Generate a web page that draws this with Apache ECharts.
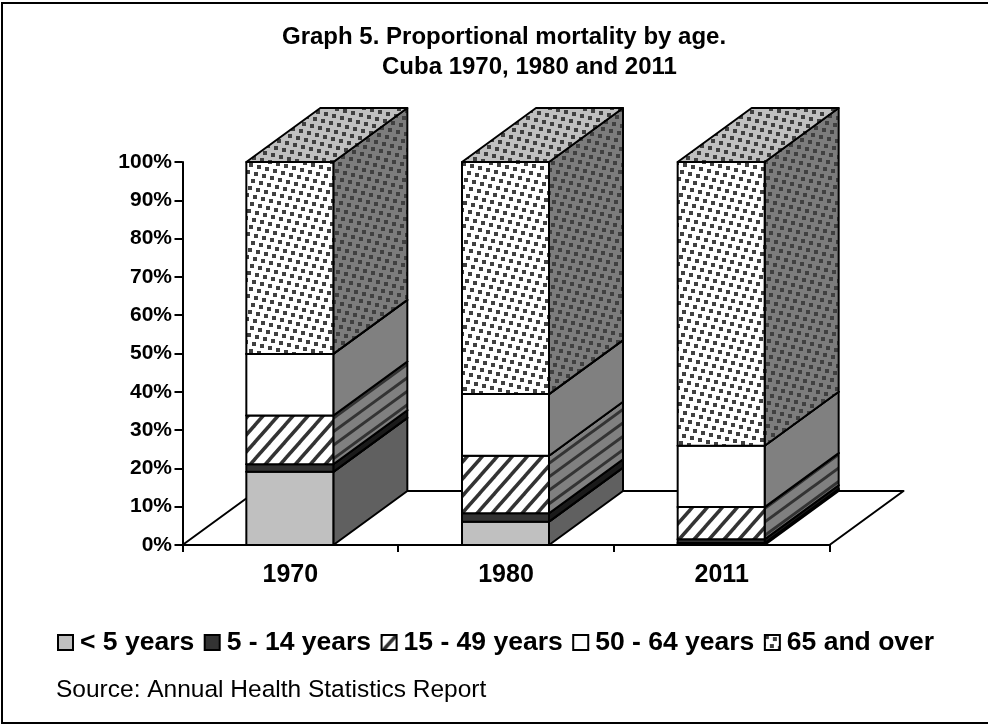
<!DOCTYPE html>
<html>
<head>
<meta charset="utf-8">
<style>
  html, body { margin: 0; padding: 0; background: #fff; }
  #chart { width: 988px; height: 725px; }
</style>
<script src="https://cdn.jsdelivr.net/npm/echarts@6/dist/echarts.min.js"></script>
</head>
<body>
<div id="chart"></div>
<script>
const years = ["1970", "1980", "2011"];
const tickLabels = ["0%", "10%", "20%", "30%", "40%", "50%", "60%", "70%", "80%", "90%", "100%"];

// share of deaths per age group
const under5 = [19.1, 6.1, 0.5];
const age5to14 = [2.0, 2.2, 1.0];
const age15to49 = [12.7, 15.0, 8.4];
const age50to64 = [16.1, 16.1, 16.0];
const age65plus = [50.1, 60.6, 74.1];

const FONT = '"Liberation Sans", Arial, sans-serif';
const DEPTH_X = 74;
const DEPTH_Y = 54;
const BAR_WIDTH = 87;
const BAR_SHIFT = -0.5;

function tile(w, h, draw) {
  const c = document.createElement("canvas");
  c.width = w;
  c.height = h;
  draw(c.getContext("2d"), w, h);
  return { image: c, repeat: "repeat" };
}

// slanted grid of little squares, repeats every 62px
function dots(bg) {
  return tile(62, 62, (g, w, h) => {
    g.fillStyle = bg;
    g.fillRect(0, 0, w, h);
    g.fillStyle = "#404040";
    for (let i = -10; i < 20; i++) {
      for (let j = -10; j < 20; j++) {
        g.fillRect(i * 8 - j * 3, i * 2 + j * 7, 4, 4);
      }
    }
  });
}

function stripes(bg, w, h, count, width) {
  return tile(w, h, (g) => {
    g.fillStyle = bg;
    g.fillRect(0, 0, w, h);
    g.strokeStyle = "#333333";
    g.lineWidth = width;
    const step = h / count;
    for (let k = -count * 2; k <= count * 3; k++) {
      g.beginPath();
      g.moveTo(-w, 2 * h + k * step);
      g.lineTo(2 * w, k * step - h);
      g.stroke();
    }
  });
}

const frontDots = dots("#ffffff");
const sideDots = dots("#7c7c7c");
const topDots = dots("#c0c0c0");
const frontHatch = stripes("#ffffff", 15, 17, 1, 3.5);
const sideHatch = stripes("#808080", DEPTH_X, DEPTH_Y, 4, 3);

const groups = [
  { name: "< 5 years", values: under5, front: "#c0c0c0", side: "#606060", top: "#c0c0c0" },
  { name: "5 - 14 years", values: age5to14, front: "#333333", side: "#1a1a1a", top: "#333333" },
  { name: "15 - 49 years", values: age15to49, front: frontHatch, side: sideHatch, top: "#c0c0c0" },
  { name: "50 - 64 years", values: age50to64, front: "#ffffff", side: "#808080", top: "#c0c0c0" },
  { name: "65 and over", values: age65plus, front: frontDots, side: sideDots, top: topDots },
];

function boxRenderer(group) {
  return function (params, api) {
    const mid = api.coord([api.value(0), 0])[0] + BAR_SHIFT;
    const low = api.coord([api.value(0), api.value(1)])[1];
    const high = api.coord([api.value(0), api.value(2)])[1];
    const l = mid - BAR_WIDTH / 2;
    const r = mid + BAR_WIDTH / 2;
    const face = (points, fill) => ({
      type: "polygon",
      shape: { points },
      style: { fill, stroke: "#000", lineWidth: 2, lineJoin: "round" },
    });
    return {
      type: "group",
      children: [
        face([[r, high], [r + DEPTH_X, high - DEPTH_Y], [r + DEPTH_X, low - DEPTH_Y], [r, low]], group.side),
        face([[l, high], [l + DEPTH_X, high - DEPTH_Y], [r + DEPTH_X, high - DEPTH_Y], [r, high]], group.top),
        face([[l, low], [r, low], [r, high], [l, high]], group.front),
      ],
    };
  };
}

function floorRenderer(params) {
  const g = params.coordSys;
  const b = g.y + g.height;
  return {
    type: "polygon",
    shape: {
      points: [[g.x, b], [g.x + DEPTH_X, b - DEPTH_Y], [g.x + g.width + DEPTH_X, b - DEPTH_Y], [g.x + g.width, b]],
    },
    style: { fill: "none", stroke: "#000", lineWidth: 2, lineJoin: "round" },
  };
}

const series = [
  { type: "custom", name: "floor", coordinateSystem: "cartesian2d", renderItem: floorRenderer, data: [[0, 0]], z: 1, silent: true },
];
let base = years.map(() => 0);
groups.forEach((group) => {
  const rows = years.map((y, i) => [i, base[i], base[i] + group.values[i]]);
  base = base.map((b, i) => b + group.values[i]);
  series.push({
    type: "custom",
    name: group.name,
    coordinateSystem: "cartesian2d",
    renderItem: boxRenderer(group),
    encode: { x: 0, y: [1, 2] },
    itemStyle: { color: group.front, borderColor: "#000", borderWidth: 1.5 },
    data: rows,
    z: 3,
  });
});

const titleFont = { fontFamily: FONT, fontSize: 24, fontWeight: "bold", color: "#000" };

const chart = echarts.init(document.getElementById("chart"), null, { renderer: "canvas" });
chart.setOption({
  animation: false,
  backgroundColor: "#ffffff",
  textStyle: { fontFamily: FONT, color: "#000" },
  title: [
    { text: "Graph 5. Proportional mortality by age.", left: 282, top: 25, padding: 0, textStyle: titleFont },
    { text: "Cuba 1970, 1980 and 2011", left: 382, top: 55, padding: 0, textStyle: titleFont },
    { text: "Source: Annual Health Statistics Report", left: 56, top: 678, padding: 0, textStyle: { fontFamily: FONT, fontSize: 24.5, fontWeight: "normal", color: "#000" } },
  ],
  legend: {
    left: 57,
    top: 629,
    padding: 0,
    itemWidth: 15,
    itemHeight: 15,
    itemGap: 9.5,
    icon: "rect",
    data: groups.map((g) => g.name),
    textStyle: { fontFamily: FONT, fontSize: 26.5, fontWeight: "bold", color: "#000", padding: [0, 0, 0, 2] },
  },
  grid: { left: 182.5, right: 158.5, top: 162, bottom: 180 },
  xAxis: {
    type: "category",
    data: years,
    z: 5,
    axisLine: { lineStyle: { color: "#000", width: 2 } },
    axisTick: { show: true, length: 7, lineStyle: { color: "#000", width: 2 } },
    axisLabel: { fontFamily: FONT, fontSize: 25, fontWeight: "bold", color: "#000", margin: 18 },
    splitLine: { show: false },
  },
  yAxis: {
    type: "value",
    min: 0,
    max: 100,
    interval: 10,
    z: 5,
    axisLine: { show: true, lineStyle: { color: "#000", width: 2 } },
    axisTick: { show: true, length: 8, lineStyle: { color: "#000", width: 2 } },
    axisLabel: {
      fontFamily: FONT,
      fontSize: 21,
      fontWeight: "bold",
      color: "#000",
      margin: 10.5,
      formatter: (v) => tickLabels[v / 10],
    },
    splitLine: { show: false },
  },
  series,
  graphic: [
    { type: "rect", silent: true, z: 10, shape: { x: 2, y: 3, width: 1000, height: 720 }, style: { fill: "none", stroke: "#000", lineWidth: 2 } },
  ],
});
</script>
</body>
</html>
